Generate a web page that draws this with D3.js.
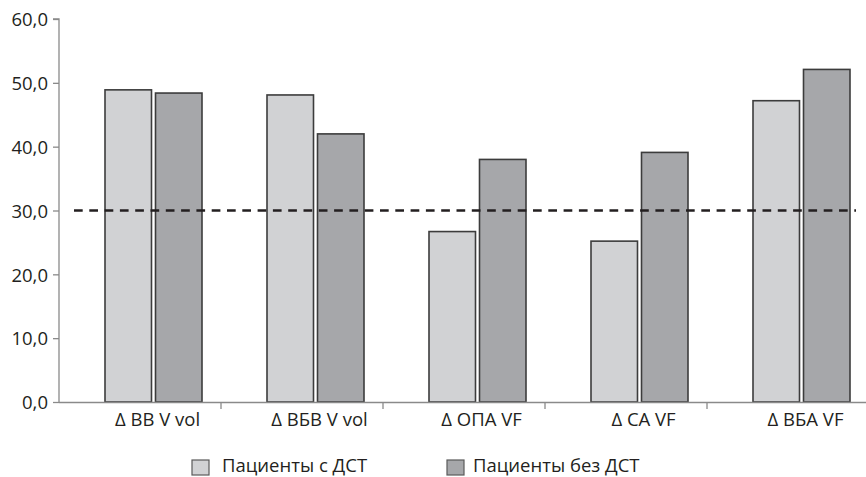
<!DOCTYPE html>
<html><head><meta charset="utf-8">
<script src="https://cdn.jsdelivr.net/npm/d3@7"></script>
<style>body{margin:0;background:#fff}svg{display:block}text{font-family:"Open Sans","Noto Sans",sans-serif;fill:#231f20}</style>
</head><body><div id="chart"></div>
<script>
const categories = ["\u0394 BB V vol", "\u0394 BБB V vol", "\u0394 OПA VF", "\u0394 CA VF", "\u0394 BБA VF"];
const seriesNames = ["Пациенты с ДСТ", "Пациенты без ДСТ"];
const withDST = [48.9, 48.1, 26.7, 25.2, 47.2];
const withoutDST = [48.4, 42.0, 38.0, 39.1, 52.1];
const yTicks = [0, 10, 20, 30, 40, 50, 60];
const threshold = 30;
const colors = ["#d1d2d4", "#a6a7aa"];

const W = 866, H = 477;
const svg = d3.select("#chart").append("svg").attr("width", W).attr("height", H);
const x0 = 59, x1 = 869, yTop = 19, yBot = 402;
const x = d3.scaleBand().domain(categories).range([x0, x1]);
const y = d3.scaleLinear().domain([0, 60]).range([yBot, yTop]);
const fmt = d => d.toFixed(1).replace(".", ",");

// y axis
const yAxis = svg.append("g").attr("transform", `translate(${x0},0)`)
  .call(d3.axisLeft(y).tickValues(yTicks).tickFormat(fmt).tickSize(6).tickPadding(5));
yAxis.select(".domain").attr("stroke", "#8a8a8a").attr("stroke-width", 1.3).attr("d", `M-6,${yTop}H0V${yBot}`);
yAxis.selectAll(".tick line").attr("stroke", "#8a8a8a").attr("stroke-width", 1.3);
yAxis.selectAll(".tick text").attr("font-size", 18.5).attr("fill", "#231f20").attr("dy", "0.36em");

// bars
const bw = 46.5, gap = 4, off = 13.5;
const data = categories.map((c, i) => ({c, vals: [withDST[i], withoutDST[i]]}));
const g = svg.append("g");
data.forEach(d => {
  const cx = x(d.c) + x.bandwidth() / 2 + off;
  d.vals.forEach((v, j) => {
    const left = j === 0 ? cx - gap / 2 - bw : cx + gap / 2;
    g.append("rect").attr("x", left).attr("y", y(v)).attr("width", bw).attr("height", y(0) - y(v))
      .attr("fill", colors[j]).attr("stroke", "#3c3c3c").attr("stroke-width", 1.6);
  });
});

// x axis
const xAxis = svg.append("g").attr("transform", `translate(0,${yBot})`)
  .call(d3.axisBottom(x).tickSize(0).tickPadding(11));
xAxis.select(".domain").attr("stroke", "#8a8a8a").attr("stroke-width", 1.3).attr("d", `M${x0},0.5H${W}`);
xAxis.selectAll(".tick text").attr("font-size", 18.5).attr("fill", "#231f20")
  .attr("transform", `translate(${off + 4},0)`);
categories.slice(1).forEach(c => {
  svg.append("line").attr("x1", x(c)).attr("x2", x(c)).attr("y1", yBot).attr("y2", yBot + 7)
    .attr("stroke", "#8a8a8a").attr("stroke-width", 1.3);
});

// threshold
svg.append("line").attr("x1", 74).attr("x2", 856).attr("y1", y(threshold)).attr("y2", y(threshold))
  .attr("stroke", "#231f20").attr("stroke-width", 2.6).attr("stroke-dasharray", "8.7,6.6");

// legend
const legX = [192, 447], legT = [222, 473];
seriesNames.forEach((n, i) => {
  svg.append("rect").attr("x", legX[i]).attr("y", 460).attr("width", 17).attr("height", 15)
    .attr("fill", colors[i]).attr("stroke", "#5a5a5a").attr("stroke-width", 1.2);
  svg.append("text").attr("x", legT[i]).attr("y", 472).attr("font-size", 18.5).text(n);
});
</script></body></html>
